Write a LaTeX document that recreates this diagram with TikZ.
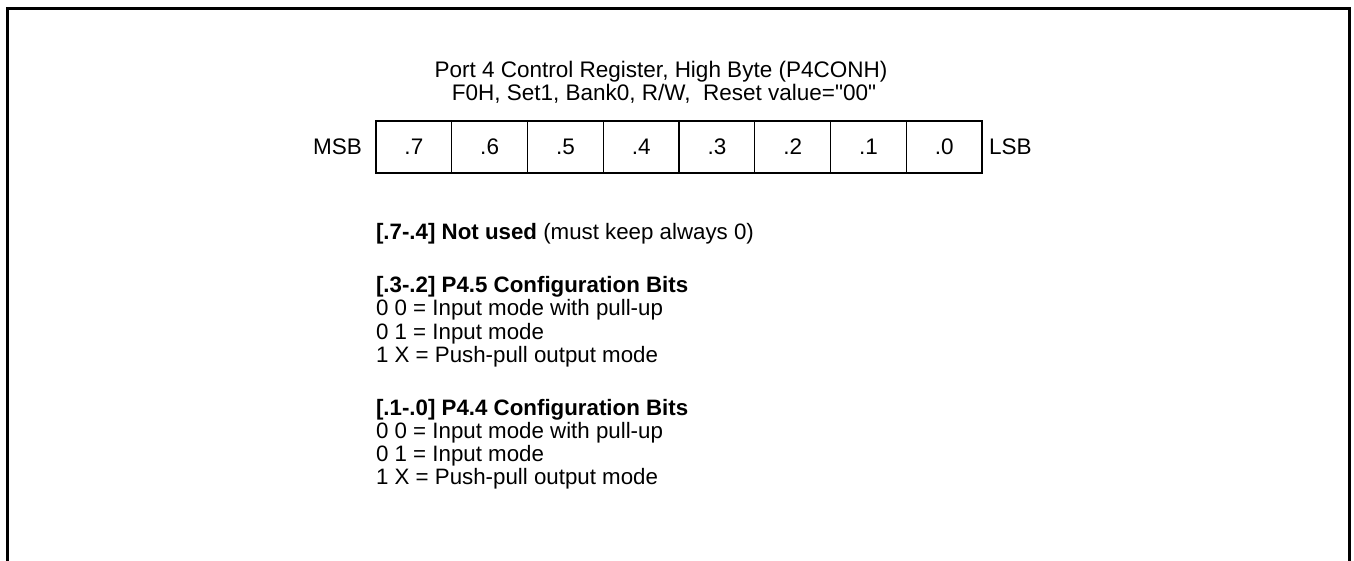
\documentclass[tikz,border=0pt]{standalone}
\usepackage{fontspec}
\setmainfont{Liberation Sans}[Ligatures=TeXOff]
\begin{document}
\begin{tikzpicture}[x=1pt,y=-1pt,
  txt/.style={inner sep=0pt,outer sep=0pt,font=\fontsize{22.3}{23}\selectfont},
  bigtxt/.style={inner sep=0pt,outer sep=0pt,font=\fontsize{22.5}{23}\selectfont},
  bitcell/.style={draw,line width=1.3pt,minimum width=75.75pt,minimum height=52pt,
    inner sep=0pt,text height=16pt,text depth=0pt,font=\fontsize{22.5}{23}\selectfont},
  frameline/.style={line width=3pt}]
\useasboundingbox (0,0) rectangle (1354,561);
\draw[frameline] (7.5,565) -- (7.5,8.5) -- (1349,8.5) -- (1349,565);
\node[bigtxt,anchor=base] (t1) at (661,78) {Port 4 Control Register, High Byte (P4CONH)};
\node[bigtxt,anchor=base] (t2) at (664,101) {F0H, Set1, Bank0, R/W,\ \ Reset value="00"};
\foreach \i/\lab in {0/.7,1/.6,2/.5,3/.4,4/.3,5/.2,6/.1,7/.0}{
  \node[bitcell] (b\i) at ({376+75.75*\i+37.875},147) {\lab};
}
\node[bigtxt,anchor=base east] (msb) at (362,155) {MSB};
\node[bigtxt,anchor=base west] (lsb) at (989,155) {LSB};
\node[txt,anchor=base west] (d1) at (376,240) {\textbf{[.7-.4] Not used} (must keep always 0)};
\node[txt,anchor=base west] (d2) at (376,293) {\textbf{[.3-.2] P4.5 Configuration Bits}};
\node[txt,anchor=base west] (d3) at (376,316) {0 0 = Input mode with pull-up};
\node[txt,anchor=base west] (d4) at (376,339) {0 1 = Input mode};
\node[txt,anchor=base west] (d5) at (376,362) {1 X = Push-pull output mode};
\node[txt,anchor=base west] (e2) at (376,415) {\textbf{[.1-.0] P4.4 Configuration Bits}};
\node[txt,anchor=base west] (e3) at (376,438) {0 0 = Input mode with pull-up};
\node[txt,anchor=base west] (e4) at (376,461) {0 1 = Input mode};
\node[txt,anchor=base west] (e5) at (376,484) {1 X = Push-pull output mode};
\end{tikzpicture}
\end{document}
